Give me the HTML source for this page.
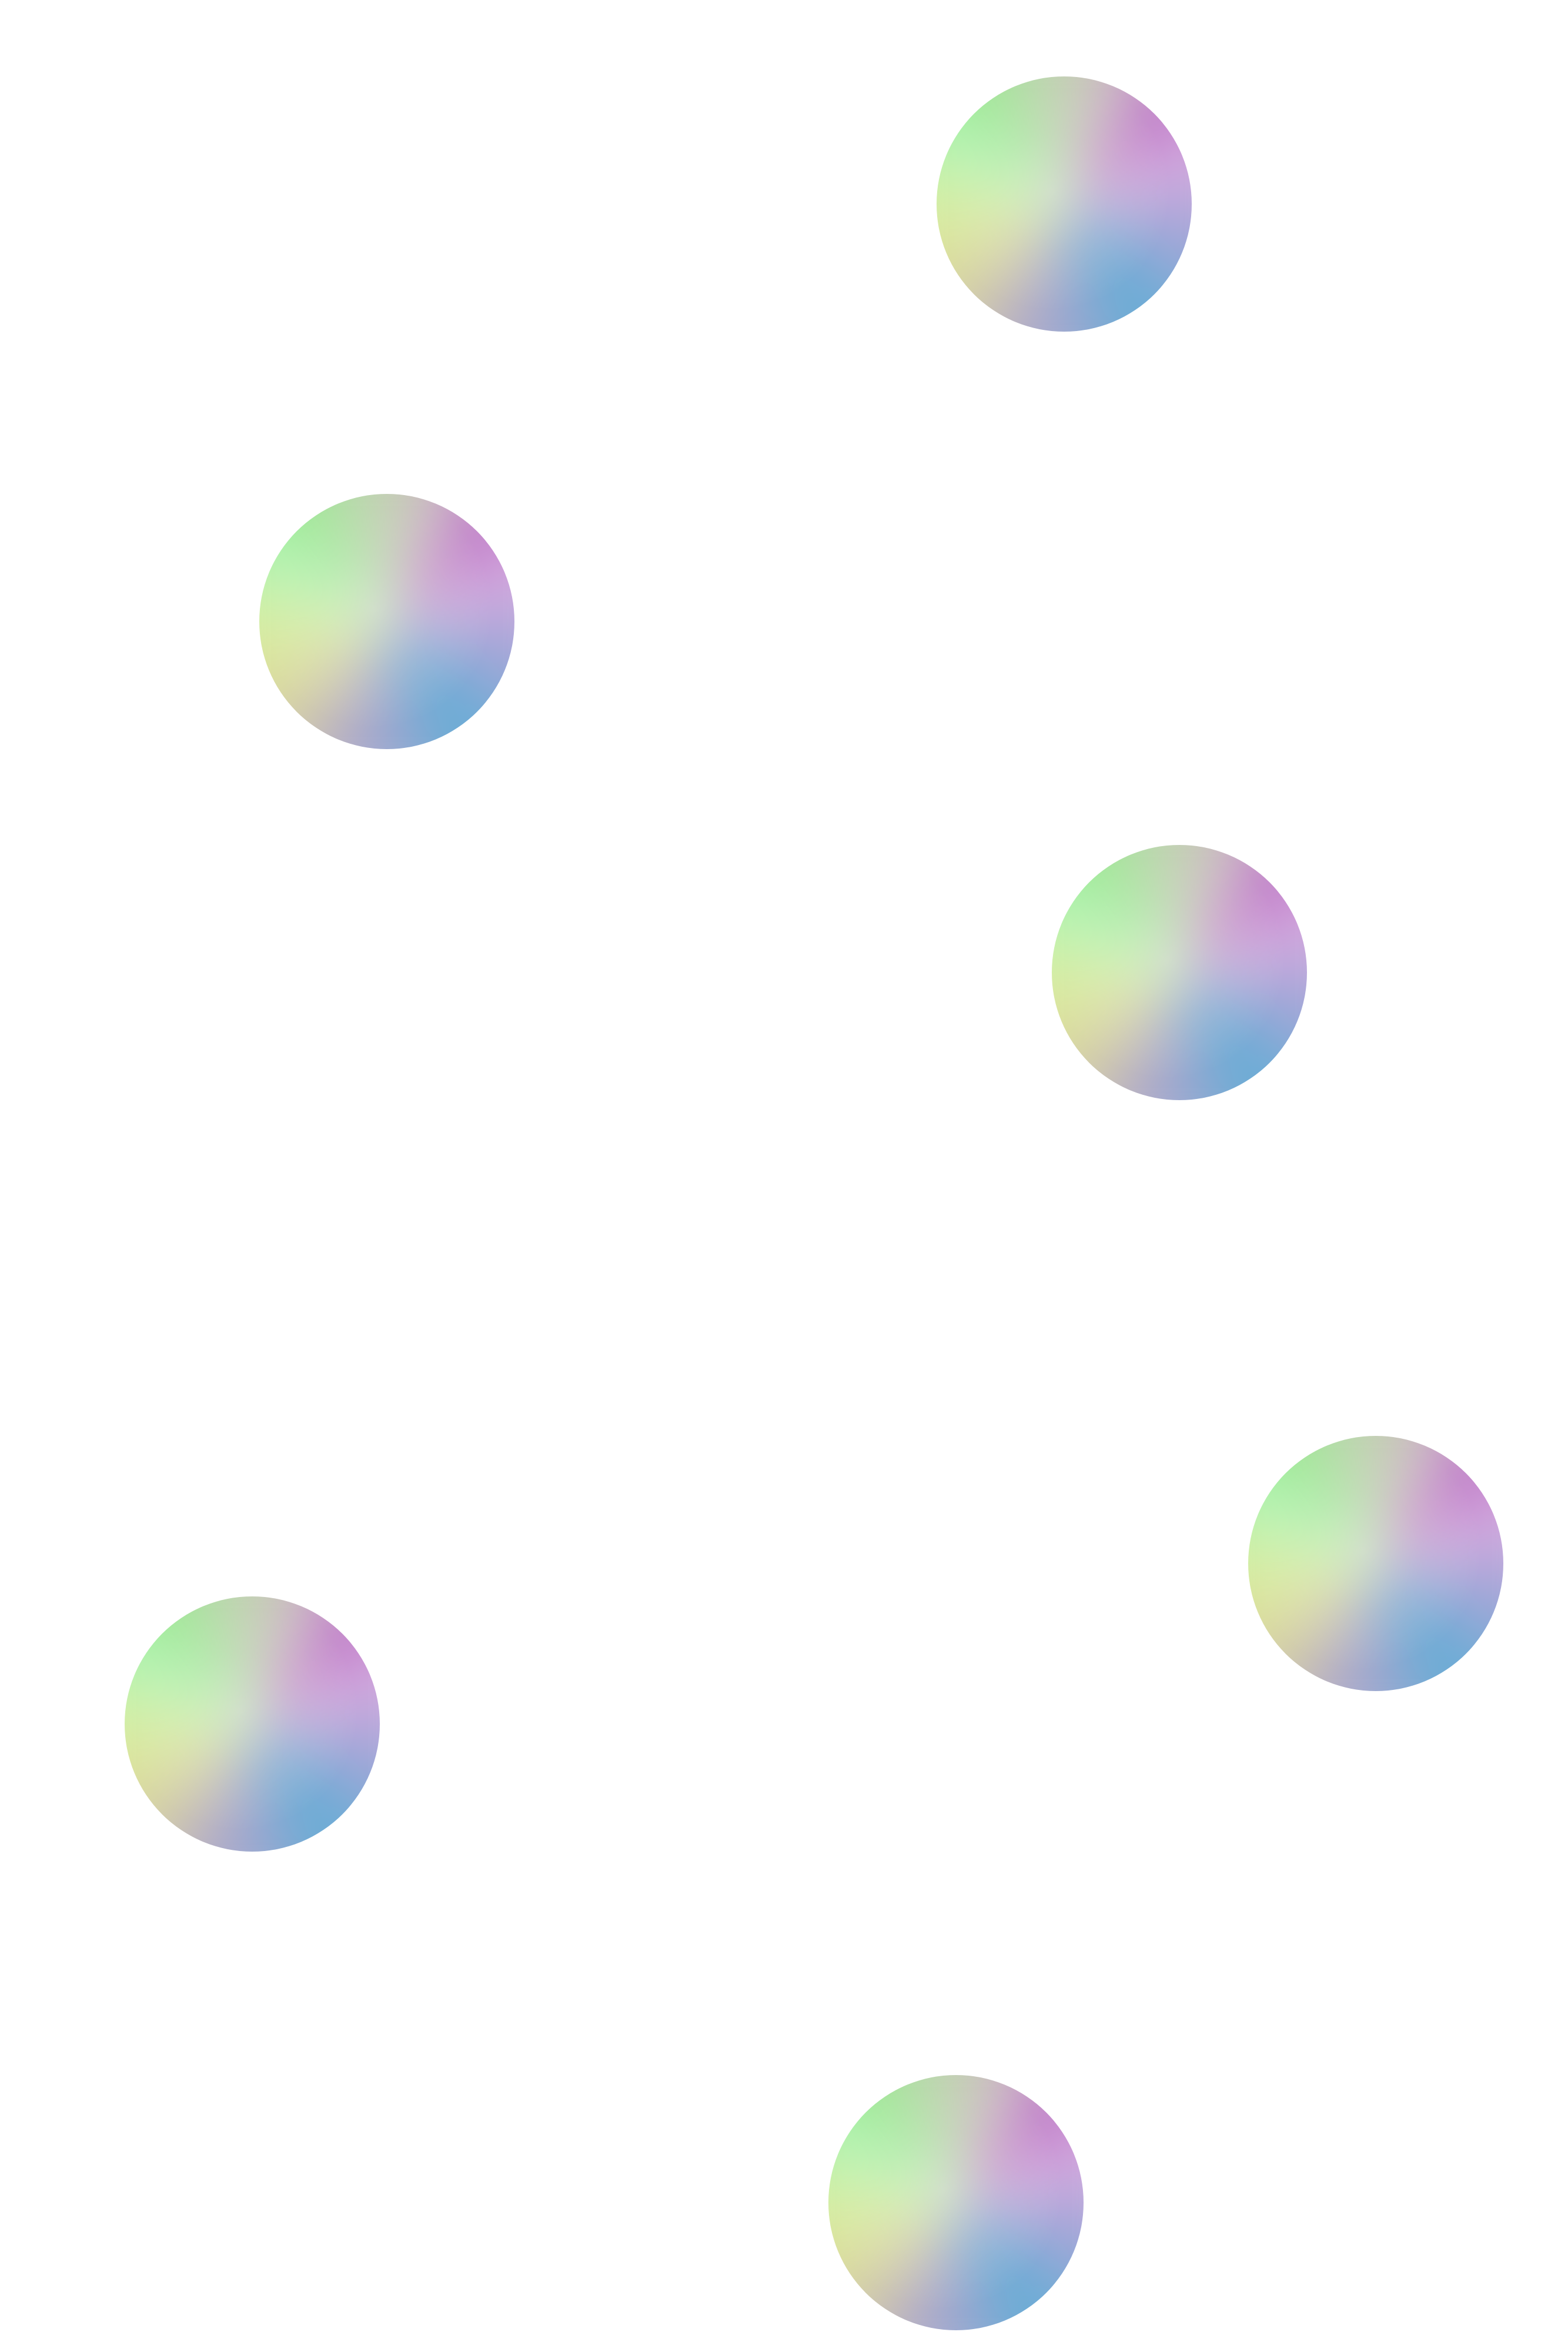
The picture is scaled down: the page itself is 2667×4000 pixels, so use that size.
<!DOCTYPE html>
<html>
<head>
<meta charset="utf-8">
<style>
  html,body{margin:0;padding:0;background:#fff;}
  #chart{position:relative;width:2667px;height:4000px;background:#fff;overflow:hidden;}
  .sphere{position:absolute;border-radius:50%;overflow:hidden;transform:translateZ(0);}
  .sphere .fill{position:absolute;left:-20%;top:-20%;width:140%;height:140%;
    background:conic-gradient(from 0deg at 50% 50%,
        #c4d0b0 0deg, #d0b8cc 25deg, #bc74c6 45deg, #d8aee0 70deg, #aaa6d8 100deg,
        #88aad6 125deg, #5eaed6 145deg, #90a8d2 170deg, #b0a8cc 195deg,
        #d4ccac 222deg, #dee49c 250deg, #d2f0a4 275deg, #b0f4b6 300deg,
        #9cea90 322deg, #b8d8ae 345deg, #c4d0b0 360deg);
    filter:blur(45px);}
  .sphere .shine{position:absolute;inset:0;border-radius:50%;
    background:radial-gradient(circle at 45% 45%, rgba(235,240,230,0.45) 0%, rgba(235,240,230,0.2) 30%, rgba(255,255,255,0) 60%);}
</style>
</head>
<body>
<div id="chart"></div>
<script>
// Data: sphere center positions in chart units (0..2667 x, 0..4000 y)
const xVals = [1810, 658, 2006, 2340, 429, 1626];
const yVals = [347, 1057, 1654, 2659, 2932, 3746];
const sizeVals = [1, 1, 1, 1, 1, 1];

const W = 2667, H = 4000, R = 217;
function xScale(v){ return v / 2667 * W; }
function yScale(v){ return v / 4000 * H; }

const chart = document.getElementById('chart');
for (let i = 0; i < xVals.length; i++) {
  const el = document.createElement('div');
  el.className = 'sphere';
  
  
  const r = R * sizeVals[i];
  el.style.left = (xScale(xVals[i]) - r) + 'px';
  el.style.top = (yScale(yVals[i]) - r) + 'px';
  el.style.width = (2 * r) + 'px';
  el.style.height = (2 * r) + 'px';
  const f = document.createElement('div');
  f.className = 'fill';
  const s = document.createElement('div');
  s.className = 'shine';
  el.appendChild(f);
  el.appendChild(s);
  chart.appendChild(el);
}
</script>
</body>
</html>
